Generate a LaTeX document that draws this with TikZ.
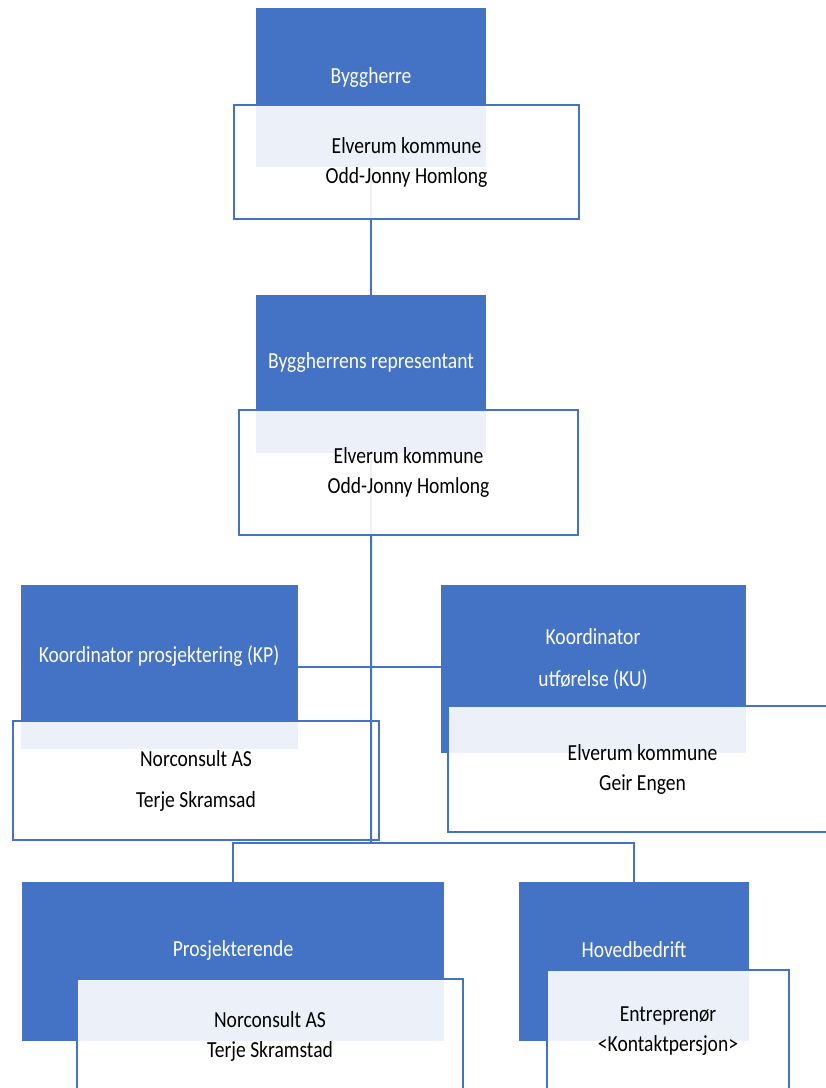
\documentclass[tikz,border=0pt]{standalone}
\usepackage{fontspec}
\setmainfont{Carlito}[FakeStretch=0.85]
\usetikzlibrary{backgrounds}
\definecolor{roleblue}{HTML}{4472C4}

\begin{document}
\begin{tikzpicture}[x=1pt, y=-1pt,
    role/.style={fill=roleblue, inner sep=0pt, anchor=north west},
    roletext/.style={text=white, align=center, font=\fontsize{23}{30}\selectfont},
    party/.style={draw=roleblue, line width=2pt, fill=white, fill opacity=0.9, text opacity=1,
      inner sep=0pt, anchor=north west, align=center, font=\fontsize{23}{30}\selectfont},
    link/.style={draw=roleblue, line width=2pt}]
  \useasboundingbox (0,0) rectangle (826,1088);

  % Roles
  \node[role, minimum width=230pt, minimum height=159pt] (bh) at (256,8) {};
  \node[role, minimum width=230pt, minimum height=158pt] (br) at (256,295) {};
  \node[role, minimum width=277pt, minimum height=164pt] (kp) at (21,585) {};
  \node[role, minimum width=305pt, minimum height=168pt] (ku) at (441,585) {};
  \node[role, minimum width=422pt, minimum height=159pt] (pr) at (22,882) {};
  \node[role, minimum width=230pt, minimum height=159pt] (hb) at (519,882) {};

  % Role titles
  \node[roletext] (bhtitle) at (371,77) {Byggherre};
  \node[roletext] (brtitle) at (371,362) {Byggherrens representant};
  \node[roletext] (kptitle) at (159,656) {Koordinator prosjektering (KP)};
  \node[roletext] (kutitle) at (593,659) {Koordinator\\[12pt]utførelse (KU)};
  \node[roletext] (prtitle) at (233,950) {Prosjekterende};
  \node[roletext] (hbtitle) at (634,950) {Hovedbedrift};

  % Parties
  \node[party, minimum width=345pt, minimum height=114pt] (bhparty) at (233,104) {Elverum kommune\\Odd-Jonny Homlong};
  \node[party, minimum width=339pt, minimum height=125pt] (brparty) at (238,409) {Elverum kommune\\Odd-Jonny Homlong};
  \node[party, minimum width=366pt, minimum height=119pt] (kpparty) at (12,720) {Norconsult AS\\[11pt]Terje Skramsad};
  \node[party, minimum width=389pt, minimum height=126pt] (kuparty) at (447,705) {Elverum kommune\\Geir Engen};
  \node[party, minimum width=386pt, minimum height=114pt] (prparty) at (76,978) {Norconsult AS\\Terje Skramstad};
  \node[party, minimum width=242pt, minimum height=123pt] (hbparty) at (546,969) {Entreprenør\\<Kontaktpersjon>};

  % Links
  \begin{pgfonlayer}{background}
    \draw[link] (bh.center) -- (br.north);
    \draw[link] (br.center) -- (br.center |- brparty.south);
  \end{pgfonlayer}
  \coordinate (split) at (371,843);
  \draw[link] (br.center |- brparty.south) -- (split);
  \draw[link] (kp.east) -- (kp.east -| ku.west);
  \draw[link] (split) -| (pr.north);
  \draw[link] (split) -| (hb.north);
\end{tikzpicture}
\end{document}
